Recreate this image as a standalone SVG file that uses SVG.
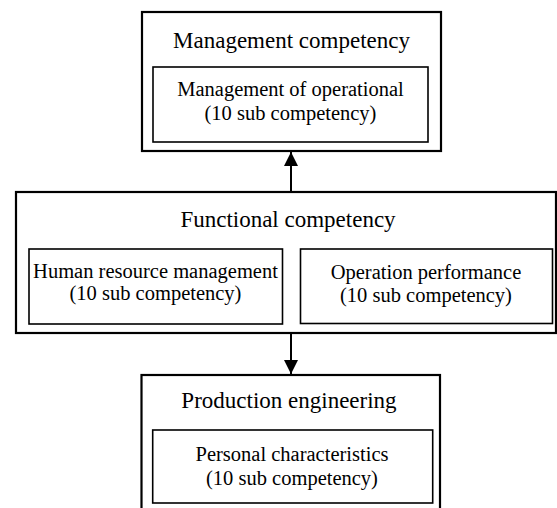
<svg xmlns="http://www.w3.org/2000/svg" width="557" height="508" viewBox="0 0 557 508">
<style>
.outer{fill:none;stroke:#000;stroke-width:2.2}
.inner{fill:none;stroke:#000;stroke-width:1.6}
.title{font-family:"Liberation Serif","Times New Roman",serif;font-size:23px;fill:#000;text-anchor:middle}
.sub{font-family:"Liberation Serif","Times New Roman",serif;font-size:20.5px;fill:#000;text-anchor:middle}
.conn{stroke:#000;stroke-width:2;fill:none}
</style>
<defs>
<marker id="arr" viewBox="0 0 14 14" refX="14" refY="7" markerWidth="14" markerHeight="14" markerUnits="userSpaceOnUse" orient="auto">
<path d="M0,0 L14,7 L0,14 Z" fill="#000"/>
</marker>
</defs>
<rect width="557" height="508" fill="#fff"/>
<g id="management">
<rect class="outer" x="142" y="12" width="299" height="139"/>
<text class="title" x="291.5" y="48">Management competency</text>
<g id="management-operational">
<rect class="inner" x="153" y="67" width="275" height="75"/>
<text class="sub" x="290.5" y="96">Management of operational</text>
<text class="sub" x="290.5" y="120">(10 sub competency)</text>
</g>
</g>
<g id="functional">
<rect class="outer" x="16" y="192" width="540" height="141"/>
<text class="title" x="288" y="227">Functional competency</text>
<g id="human-resource">
<rect class="inner" x="29" y="249" width="253.5" height="75"/>
<text class="sub" x="155.5" y="278">Human resource management</text>
<text class="sub" x="155.5" y="300">(10 sub competency)</text>
</g>
<g id="operation-performance">
<rect class="inner" x="300.5" y="249" width="252" height="74.5"/>
<text class="sub" x="426" y="279">Operation performance</text>
<text class="sub" x="426" y="302">(10 sub competency)</text>
</g>
</g>
<g id="production">
<rect class="outer" x="141.5" y="375" width="298.5" height="140"/>
<text class="title" x="289" y="408">Production engineering</text>
<g id="personal">
<rect class="inner" x="152.7" y="430" width="280" height="73"/>
<text class="sub" x="292" y="461">Personal characteristics</text>
<text class="sub" x="292" y="485">(10 sub competency)</text>
</g>
</g>
<g id="connectors">
<line class="conn" x1="291" y1="192" x2="291" y2="152" marker-end="url(#arr)"/>
<line class="conn" x1="291" y1="333" x2="291" y2="374" marker-end="url(#arr)"/>
</g>
</svg>
